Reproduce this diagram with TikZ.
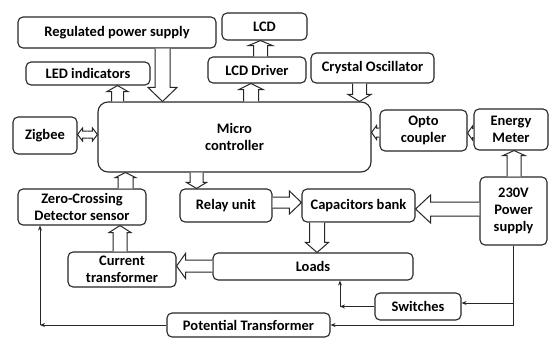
\documentclass[tikz,border=0pt]{standalone}
\usepackage{fontspec}
\setmainfont{Carlito}
\usetikzlibrary{calc,arrows.meta}
\newcommand\hollowarrow[5]{%
  \filldraw[harrow] let \p1=#1, \p2=#2, \n1={atan2(\y2-\y1,\x2-\x1)}, \n2={veclen(\x2-\x1,\y2-\y1)} in
  ([shift={(\p1)},rotate=\n1]0pt,-#3pt) -- ([shift={(\p1)},rotate=\n1]\n2-#5pt,-#3pt)
  -- ([shift={(\p1)},rotate=\n1]\n2-#5pt,-#4pt) -- ([shift={(\p1)},rotate=\n1]\n2,0pt)
  -- ([shift={(\p1)},rotate=\n1]\n2-#5pt,#4pt) -- ([shift={(\p1)},rotate=\n1]\n2-#5pt,#3pt)
  -- ([shift={(\p1)},rotate=\n1]0pt,#3pt);}
\tikzset{
  box/.style={draw=black!85, line width=1.1pt, rounded corners=5pt, fill=white, align=center,
    inner sep=0pt, font=\bfseries\fontsize{14.5}{17}\selectfont},
  harrow/.style={draw=black!85, line width=1pt, fill=white, line join=miter},
  larrow/.style={draw=black!85, line width=1pt, -{Stealth[length=5pt,width=4pt]}},
  plain/.style={draw=black!85, line width=1pt}
}
\begin{document}
\begin{tikzpicture}[x=1pt,y=-1pt]
\useasboundingbox (0,0) rectangle (552,338);
% boxes
\node[box, minimum width=198pt, minimum height=31pt] (rps) at (117,32.5) {Regulated power supply};
\node[box, minimum width=85pt, minimum height=27pt] (lcd) at (264.5,26.5) {LCD};
\node[box, minimum width=124pt, minimum height=23pt] (led) at (88,73.5) {LED indicators};
\node[box, minimum width=98pt, minimum height=26pt] (lcdd) at (257,70) {LCD Driver};
\node[box, minimum width=123pt, minimum height=30pt] (osc) at (372.5,68) {Crystal Oscillator};
\node[box, rounded corners=10pt, minimum width=273pt, minimum height=70pt] (mc) at (234.5,137) {Micro\\controller};
\node[box, minimum width=64pt, minimum height=37pt] (zig) at (45,135.5) {Zigbee};
\node[box, minimum width=87pt, minimum height=41pt] (opto) at (423.5,130.5) {Opto\\coupler};
\node[box, minimum width=74pt, minimum height=41pt] (em) at (511,129.5) {Energy\\Meter};
\node[box, minimum width=67pt, minimum height=68pt] (pwr) at (513.5,211) {230V\\Power\\supply};
\node[box, minimum width=113pt, minimum height=33pt] (cap) at (358.5,205.5) {Capacitors bank};
\node[box, minimum width=92pt, minimum height=33pt] (relay) at (226,205.5) {Relay unit};
\node[box, minimum width=128pt, minimum height=36pt] (zcd) at (82,207) {Zero-Crossing\\Detector sensor};
\node[box, minimum width=108pt, minimum height=35pt] (ct) at (122,269.5) {Current\\transformer};
\node[box, minimum width=200pt, minimum height=27pt] (loads) at (313,266.5) {Loads};
\node[box, minimum width=86pt, minimum height=27pt] (sw) at (418,306.5) {Switches};
\node[box, minimum width=163pt, minimum height=24pt] (pt) at (248.5,325) {Potential Transformer};
% guide coordinates for hollow arrows
\coordinate (a1) at (162.5,0);
\coordinate (a2) at (117.5,0);
\coordinate (a3) at (251,0);
\coordinate (a4) at (260.5,0);
\coordinate (a5) at (359.5,0);
\coordinate (zm) at (87.5,134.5);
\coordinate (a7) at (0,132.5);
\coordinate (a8) at (0,133);
\coordinate (a9) at (514,0);
\coordinate (a10) at (125.5,0);
\coordinate (a11) at (196.5,0);
\coordinate (a12) at (0,202.5);
\coordinate (a13) at (0,209);
\coordinate (a14) at (317,0);
\coordinate (a15) at (0,266);
\coordinate (a16) at (120,0);
% hollow arrows
\hollowarrow{(rps.south -| a1)}{(mc.north -| a1)}{7.5}{14.5}{14}
\hollowarrow{(mc.north -| a2)}{(led.south -| a2)}{6}{10.5}{6}
\hollowarrow{(mc.north -| a3)}{(lcdd.south -| a3)}{7.5}{12}{6}
\hollowarrow{(lcdd.north -| a4)}{(lcd.south -| a4)}{7}{12}{5}
\hollowarrow{(osc.south -| a5)}{(mc.north -| a5)}{7}{11.5}{7}
\hollowarrow{(zm)}{(zig.east |- zm)}{3.5}{6.5}{5}
\hollowarrow{(zm)}{(mc.west |- zm)}{3.5}{6.5}{5}
\hollowarrow{(opto.west |- a7)}{(mc.east |- a7)}{4.5}{7}{5}
\hollowarrow{(em.west |- a8)}{(opto.east |- a8)}{4.5}{7}{5}
\hollowarrow{(pwr.north -| a9)}{(em.south -| a9)}{7}{11}{5}
\hollowarrow{(zcd.north -| a10)}{(mc.south -| a10)}{7.5}{10}{5}
\hollowarrow{(mc.south -| a11)}{(relay.north -| a11)}{6.5}{10}{6}
\hollowarrow{(relay.east |- a12)}{(cap.west |- a12)}{5.5}{11.5}{12}
\hollowarrow{(pwr.west |- a13)}{(cap.east |- a13)}{7}{14}{15}
\hollowarrow{(cap.south -| a14)}{(loads.north -| a14)}{7.5}{11.5}{10}
\hollowarrow{(loads.west |- a15)}{(ct.east |- a15)}{6}{12.5}{9}
\hollowarrow{(ct.north -| a16)}{(zcd.south -| a16)}{7}{11}{7}
% line connectors
\coordinate (swin) at ([yshift=3.5pt]sw.east);
\coordinate (lc) at (340,306.5);
\coordinate (zc) at (40,325);
\draw[plain] (pwr.south) -- (pwr.south |- pt.east);
\draw[larrow] (pwr.south |- pt.east) -- (pt.east);
\draw[larrow] (pwr.south |- swin) -- (swin);
\draw[larrow] (sw.west) -- (lc);
\draw[larrow] (lc) -- (lc |- loads.south);
\draw[larrow] (pt.west) -- (zc);
\draw[larrow] (zc) -- (zc |- zcd.south);
\end{tikzpicture}
\end{document}
